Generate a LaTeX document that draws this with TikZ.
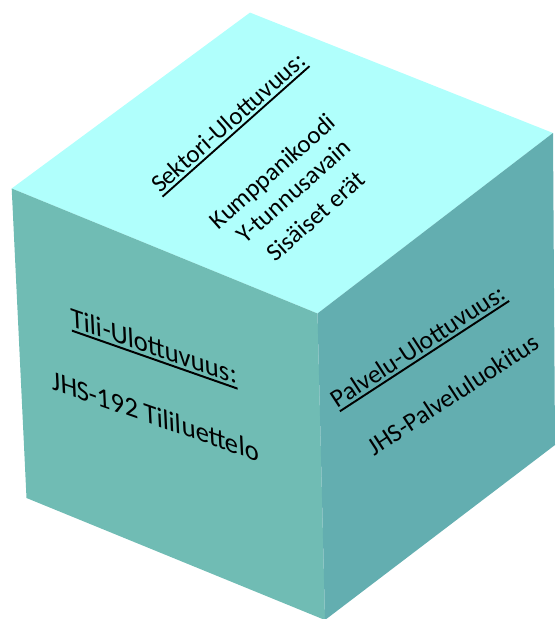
\documentclass[tikz,border=0pt]{standalone}
\usepackage{fontspec}
\setmainfont{Carlito}
\definecolor{topc}{RGB}{176,255,252}
\definecolor{leftc}{RGB}{112,188,180}
\definecolor{rightc}{RGB}{99,174,176}
\newcommand{\ulinetext}[1]{\vtop{\hbox{#1}\kern0.1em\hrule height 0.075em}}
\tikzset{
  facetext/.style={inner sep=0pt, anchor=base, text=black},
  toptext/.style={facetext, font=\fontsize{25}{30}\selectfont, rotate=41.6},
  lefttext/.style={facetext, font=\fontsize{28.3}{34}\selectfont, transform shape},
  righttext/.style={facetext, font=\fontsize{25.5}{31}\selectfont, rotate=33.1}
}
\begin{document}
\begin{tikzpicture}[x=1pt,y=-1pt]
\useasboundingbox (0,0) rectangle (555,619);
% cube corners
\coordinate (T) at (250,12.6);
\coordinate (L) at (11.7,188.5);
\coordinate (F) at (317.5,313.5);
\coordinate (R) at (553,133);
\coordinate (LB) at (26.5,498);
\coordinate (FB) at (325,620);
\coordinate (RB) at (555,445);
% faces
\fill[topc] (T) -- (R) -- (F) -- (L) -- cycle;
\fill[leftc] (L) -- (F) -- (FB) -- (LB) -- cycle;
\fill[rightc] (F) -- (R) -- (RB) -- (FB) -- cycle;
% top face text
\node[toptext] (sektori) at (233.6,128.7) {\ulinetext{Sektori-Ulottuvuus:}};
\node[toptext] (kump) at (277.9,177.7) {Kumppanikoodi};
\node[toptext] (ytunnus) at (299.1,197.5) {Y-tunnusavain};
\node[toptext] (sisaiset) at (321.1,222.3) {Sisäiset erät};
% left face text (sheared onto the face)
\begin{scope}[shift={(154.5,355.5)}, cm={0.944,-0.3305,-0.048,0.999,(0,0)}]
  \node[lefttext] (tili) at (0,0) {\ulinetext{Tili-Ulottuvuus:}};
  \node[lefttext] (jhs192) at (-2,71) {JHS-192 Tililuettelo};
\end{scope}
% right face text
\node[righttext] (palvelu) at (422.5,353) {\ulinetext{Palvelu-Ulottuvuus:}};
\node[righttext] (jhspal) at (457.8,401.7) {JHS-Palveluluokitus};
\end{tikzpicture}
\end{document}
